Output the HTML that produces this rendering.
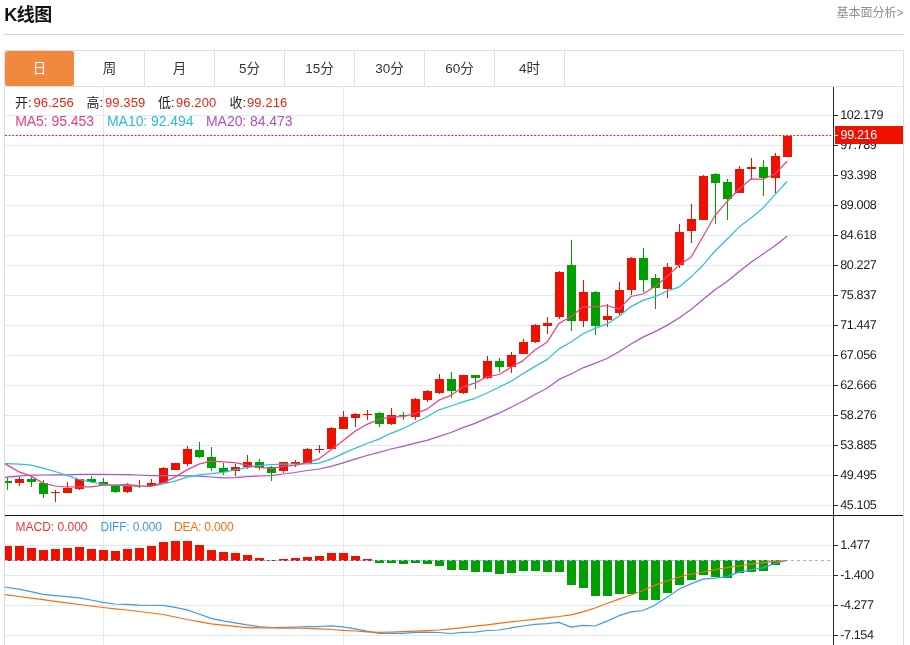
<!DOCTYPE html>
<html lang="zh-CN">
<head>
<meta charset="utf-8">
<title>K线图</title>
<style>
html,body{margin:0;padding:0;background:#fff;}
body{width:910px;height:645px;overflow:hidden;position:relative;font-family:"Liberation Sans","Noto Sans CJK SC",sans-serif;color:#222;}
.title{position:absolute;left:4.3px;top:2.8px;font-size:18px;font-weight:bold;line-height:24px;color:#111;letter-spacing:-0.5px;}
.more{position:absolute;right:6.5px;top:5.3px;font-size:12px;line-height:16px;color:#8e8e8e;}
.hr{position:absolute;left:4px;top:34px;width:900px;height:1px;background:#d2d2d2;}
.tabs{position:absolute;left:4px;top:50px;width:898px;height:35px;border:1px solid #dedede;}
.tab{position:absolute;top:0;width:69px;height:35px;border-right:1px solid #dedede;text-align:center;font-size:13.5px;line-height:36.5px;color:#333;}
.tab.on{background:#f0883e;color:#fff;border-radius:3px;border-right-color:#fff;}
.frame{position:absolute;left:4px;top:87px;width:898px;height:558px;border-left:1px solid #dcdcdc;border-right:1px solid #dcdcdc;}
svg{position:absolute;left:0;top:0;}
.lg{position:absolute;white-space:nowrap;font-size:13px;line-height:16px;}
.lg .p{position:absolute;top:0;}
.lg .n{color:#ee2211;letter-spacing:0.1px;}
</style>
</head>
<body>
<div class="title">K线图</div>
<div class="more">基本面分析&gt;</div>
<div class="hr"></div>
<div class="tabs">
<div class="tab on" style="left:0">日</div>
<div class="tab" style="left:70px">周</div>
<div class="tab" style="left:140px">月</div>
<div class="tab" style="left:210px">5分</div>
<div class="tab" style="left:280px">15分</div>
<div class="tab" style="left:350px">30分</div>
<div class="tab" style="left:420px">60分</div>
<div class="tab" style="left:490px">4时</div>
</div>
<div class="frame"></div>
<svg width="910" height="645" viewBox="0 0 910 645">
<defs><clipPath id="cl"><rect x="5" y="87" width="828" height="558"/></clipPath></defs>
<g shape-rendering="crispEdges">
<rect x="103" y="87" width="1" height="558" fill="#e0eaf1"/>
<rect x="343" y="87" width="1" height="558" fill="#e0eaf1"/>
<rect x="5" y="115" width="828" height="1" fill="#e0eaf1"/>
<rect x="5" y="145" width="828" height="1" fill="#e0eaf1"/>
<rect x="5" y="175" width="828" height="1" fill="#e0eaf1"/>
<rect x="5" y="205" width="828" height="1" fill="#e0eaf1"/>
<rect x="5" y="235" width="828" height="1" fill="#e0eaf1"/>
<rect x="5" y="265" width="828" height="1" fill="#e0eaf1"/>
<rect x="5" y="295" width="828" height="1" fill="#e0eaf1"/>
<rect x="5" y="325" width="828" height="1" fill="#e0eaf1"/>
<rect x="5" y="355" width="828" height="1" fill="#e0eaf1"/>
<rect x="5" y="385" width="828" height="1" fill="#e0eaf1"/>
<rect x="5" y="415" width="828" height="1" fill="#e0eaf1"/>
<rect x="5" y="445" width="828" height="1" fill="#e0eaf1"/>
<rect x="5" y="475" width="828" height="1" fill="#e0eaf1"/>
<rect x="5" y="505" width="828" height="1" fill="#e0eaf1"/>
<rect x="5" y="545" width="828" height="1" fill="#e0eaf1"/>
<rect x="5" y="575" width="828" height="1" fill="#e0eaf1"/>
<rect x="5" y="605" width="828" height="1" fill="#e0eaf1"/>
<rect x="5" y="635" width="828" height="1" fill="#e0eaf1"/>
</g>
<g clip-path="url(#cl)" shape-rendering="crispEdges">
<rect x="7" y="477" width="1" height="13" fill="#00a000"/>
<rect x="3" y="481" width="9" height="2" fill="#00a000"/>
<rect x="19" y="477" width="1" height="9" fill="#ee1100"/>
<rect x="15" y="479" width="9" height="4" fill="#ee1100"/>
<rect x="31" y="477" width="1" height="10" fill="#00a000"/>
<rect x="27" y="479" width="9" height="3" fill="#00a000"/>
<rect x="43" y="480" width="1" height="18" fill="#00a000"/>
<rect x="39" y="483" width="9" height="11" fill="#00a000"/>
<rect x="55" y="490" width="1" height="12" fill="#ee1100"/>
<rect x="51" y="492" width="9" height="1" fill="#ee1100"/>
<rect x="67" y="482" width="1" height="11" fill="#ee1100"/>
<rect x="63" y="488" width="9" height="5" fill="#ee1100"/>
<rect x="79" y="479" width="1" height="11" fill="#ee1100"/>
<rect x="75" y="479" width="9" height="10" fill="#ee1100"/>
<rect x="91" y="476" width="1" height="7" fill="#00a000"/>
<rect x="87" y="479" width="9" height="3" fill="#00a000"/>
<rect x="103" y="478" width="1" height="7" fill="#00a000"/>
<rect x="99" y="482" width="9" height="3" fill="#00a000"/>
<rect x="115" y="484" width="1" height="9" fill="#00a000"/>
<rect x="111" y="485" width="9" height="7" fill="#00a000"/>
<rect x="127" y="483" width="1" height="10" fill="#ee1100"/>
<rect x="123" y="485" width="9" height="7" fill="#ee1100"/>
<rect x="139" y="480" width="1" height="8" fill="#ee1100"/>
<rect x="135" y="486" width="9" height="1" fill="#ee1100"/>
<rect x="151" y="479" width="1" height="7" fill="#ee1100"/>
<rect x="147" y="483" width="9" height="3" fill="#ee1100"/>
<rect x="163" y="467" width="1" height="17" fill="#ee1100"/>
<rect x="159" y="468" width="9" height="15" fill="#ee1100"/>
<rect x="175" y="463" width="1" height="7" fill="#ee1100"/>
<rect x="171" y="463" width="9" height="7" fill="#ee1100"/>
<rect x="187" y="446" width="1" height="20" fill="#ee1100"/>
<rect x="183" y="449" width="9" height="15" fill="#ee1100"/>
<rect x="199" y="442" width="1" height="16" fill="#00a000"/>
<rect x="195" y="450" width="9" height="7" fill="#00a000"/>
<rect x="211" y="447" width="1" height="24" fill="#00a000"/>
<rect x="207" y="457" width="9" height="11" fill="#00a000"/>
<rect x="223" y="463" width="1" height="12" fill="#00a000"/>
<rect x="219" y="468" width="9" height="4" fill="#00a000"/>
<rect x="235" y="464" width="1" height="12" fill="#ee1100"/>
<rect x="231" y="467" width="9" height="4" fill="#ee1100"/>
<rect x="247" y="455" width="1" height="14" fill="#ee1100"/>
<rect x="243" y="462" width="9" height="5" fill="#ee1100"/>
<rect x="259" y="459" width="1" height="11" fill="#00a000"/>
<rect x="255" y="462" width="9" height="6" fill="#00a000"/>
<rect x="271" y="466" width="1" height="15" fill="#00a000"/>
<rect x="267" y="467" width="9" height="6" fill="#00a000"/>
<rect x="283" y="462" width="1" height="11" fill="#ee1100"/>
<rect x="279" y="462" width="9" height="9" fill="#ee1100"/>
<rect x="295" y="460" width="1" height="7" fill="#ee1100"/>
<rect x="291" y="462" width="9" height="2" fill="#ee1100"/>
<rect x="307" y="448" width="1" height="15" fill="#ee1100"/>
<rect x="303" y="449" width="9" height="14" fill="#ee1100"/>
<rect x="319" y="445" width="1" height="8" fill="#ee1100"/>
<rect x="315" y="449" width="9" height="1" fill="#ee1100"/>
<rect x="331" y="427" width="1" height="22" fill="#ee1100"/>
<rect x="327" y="428" width="9" height="21" fill="#ee1100"/>
<rect x="343" y="411" width="1" height="18" fill="#ee1100"/>
<rect x="339" y="417" width="9" height="12" fill="#ee1100"/>
<rect x="355" y="413" width="1" height="14" fill="#ee1100"/>
<rect x="351" y="414" width="9" height="4" fill="#ee1100"/>
<rect x="367" y="410" width="1" height="10" fill="#ee1100"/>
<rect x="363" y="414" width="9" height="1" fill="#ee1100"/>
<rect x="379" y="412" width="1" height="15" fill="#00a000"/>
<rect x="375" y="413" width="9" height="11" fill="#00a000"/>
<rect x="391" y="408" width="1" height="17" fill="#ee1100"/>
<rect x="387" y="415" width="9" height="9" fill="#ee1100"/>
<rect x="403" y="412" width="1" height="8" fill="#00a000"/>
<rect x="399" y="415" width="9" height="1" fill="#00a000"/>
<rect x="415" y="398" width="1" height="22" fill="#ee1100"/>
<rect x="411" y="399" width="9" height="18" fill="#ee1100"/>
<rect x="427" y="390" width="1" height="12" fill="#ee1100"/>
<rect x="423" y="391" width="9" height="9" fill="#ee1100"/>
<rect x="439" y="374" width="1" height="20" fill="#ee1100"/>
<rect x="435" y="379" width="9" height="14" fill="#ee1100"/>
<rect x="451" y="372" width="1" height="26" fill="#00a000"/>
<rect x="447" y="379" width="9" height="12" fill="#00a000"/>
<rect x="463" y="375" width="1" height="19" fill="#ee1100"/>
<rect x="459" y="375" width="9" height="18" fill="#ee1100"/>
<rect x="475" y="375" width="1" height="14" fill="#00a000"/>
<rect x="471" y="375" width="9" height="3" fill="#00a000"/>
<rect x="487" y="356" width="1" height="23" fill="#ee1100"/>
<rect x="483" y="361" width="9" height="17" fill="#ee1100"/>
<rect x="499" y="358" width="1" height="14" fill="#00a000"/>
<rect x="495" y="361" width="9" height="6" fill="#00a000"/>
<rect x="511" y="352" width="1" height="21" fill="#ee1100"/>
<rect x="507" y="355" width="9" height="12" fill="#ee1100"/>
<rect x="523" y="339" width="1" height="15" fill="#ee1100"/>
<rect x="519" y="342" width="9" height="12" fill="#ee1100"/>
<rect x="535" y="324" width="1" height="19" fill="#ee1100"/>
<rect x="531" y="325" width="9" height="17" fill="#ee1100"/>
<rect x="547" y="317" width="1" height="17" fill="#ee1100"/>
<rect x="543" y="323" width="9" height="3" fill="#ee1100"/>
<rect x="559" y="271" width="1" height="48" fill="#ee1100"/>
<rect x="555" y="272" width="9" height="45" fill="#ee1100"/>
<rect x="571" y="240" width="1" height="91" fill="#00a000"/>
<rect x="567" y="265" width="9" height="56" fill="#00a000"/>
<rect x="583" y="280" width="1" height="47" fill="#ee1100"/>
<rect x="579" y="292" width="9" height="29" fill="#ee1100"/>
<rect x="595" y="291" width="1" height="44" fill="#00a000"/>
<rect x="591" y="292" width="9" height="34" fill="#00a000"/>
<rect x="607" y="304" width="1" height="23" fill="#ee1100"/>
<rect x="603" y="316" width="9" height="4" fill="#ee1100"/>
<rect x="619" y="282" width="1" height="33" fill="#ee1100"/>
<rect x="615" y="290" width="9" height="23" fill="#ee1100"/>
<rect x="631" y="257" width="1" height="38" fill="#ee1100"/>
<rect x="627" y="258" width="9" height="32" fill="#ee1100"/>
<rect x="643" y="248" width="1" height="44" fill="#00a000"/>
<rect x="639" y="258" width="9" height="22" fill="#00a000"/>
<rect x="655" y="274" width="1" height="35" fill="#00a000"/>
<rect x="651" y="278" width="9" height="10" fill="#00a000"/>
<rect x="667" y="263" width="1" height="35" fill="#ee1100"/>
<rect x="663" y="267" width="9" height="22" fill="#ee1100"/>
<rect x="679" y="224" width="1" height="44" fill="#ee1100"/>
<rect x="675" y="232" width="9" height="33" fill="#ee1100"/>
<rect x="691" y="204" width="1" height="39" fill="#ee1100"/>
<rect x="687" y="219" width="9" height="12" fill="#ee1100"/>
<rect x="703" y="175" width="1" height="45" fill="#ee1100"/>
<rect x="699" y="176" width="9" height="44" fill="#ee1100"/>
<rect x="715" y="173" width="1" height="51" fill="#00a000"/>
<rect x="711" y="174" width="9" height="9" fill="#00a000"/>
<rect x="727" y="179" width="1" height="41" fill="#00a000"/>
<rect x="723" y="182" width="9" height="17" fill="#00a000"/>
<rect x="739" y="166" width="1" height="27" fill="#ee1100"/>
<rect x="735" y="169" width="9" height="24" fill="#ee1100"/>
<rect x="751" y="158" width="1" height="22" fill="#ee1100"/>
<rect x="747" y="167" width="9" height="2" fill="#ee1100"/>
<rect x="763" y="160" width="1" height="36" fill="#00a000"/>
<rect x="759" y="167" width="9" height="11" fill="#00a000"/>
<rect x="775" y="153" width="1" height="40" fill="#ee1100"/>
<rect x="771" y="156" width="9" height="22" fill="#ee1100"/>
<rect x="787" y="135" width="1" height="22" fill="#ee1100"/>
<rect x="783" y="136" width="9" height="21" fill="#ee1100"/>
</g>
<g clip-path="url(#cl)" fill="none" stroke-width="1.25" stroke-linejoin="round">
<path d="M-5.0 478.5 L7.0 477.2 L19.0 476.1 L31.0 475.2 L43.0 475.0 L55.0 474.8 L67.0 474.8 L79.0 474.4 L91.0 474.3 L103.0 474.3 L115.0 474.5 L127.0 474.6 L139.0 475.0 L151.0 475.6 L163.0 475.6 L175.0 475.6 L187.0 475.8 L199.0 476.1 L211.0 477.0 L223.0 477.9 L235.0 477.7 L247.0 476.6 L259.0 476.0 L271.0 475.6 L283.0 474.0 L295.0 472.5 L307.0 470.5 L319.0 469.0 L331.0 466.3 L343.0 462.9 L355.0 459.1 L367.0 455.5 L379.0 452.4 L391.0 449.0 L403.0 446.4 L415.0 443.2 L427.0 440.3 L439.0 436.4 L451.0 432.5 L463.0 427.7 L475.0 423.3 L487.0 418.2 L499.0 413.2 L511.0 407.3 L523.0 401.3 L535.0 394.5 L547.0 388.2 L559.0 379.4 L571.0 374.0 L583.0 367.8 L595.0 363.4 L607.0 358.5 L619.0 351.8 L631.0 344.0 L643.0 337.1 L655.0 331.6 L667.0 325.4 L679.0 318.0 L691.0 309.4 L703.0 299.5 L715.0 289.7 L727.0 281.6 L739.0 271.7 L751.0 262.3 L763.0 254.1 L775.0 245.7 L787.0 236.3" stroke="#b152c9"/>
<path d="M-5.0 463.0 L7.0 463.7 L19.0 464.2 L31.0 465.2 L43.0 468.2 L55.0 471.5 L67.0 475.4 L79.0 479.4 L91.0 482.0 L103.0 484.3 L115.0 485.5 L127.0 485.7 L139.0 486.4 L151.0 486.5 L163.0 483.9 L175.0 481.1 L187.0 477.2 L199.0 474.9 L211.0 473.6 L223.0 472.3 L235.0 469.8 L247.0 467.6 L259.0 465.7 L271.0 464.7 L283.0 464.1 L295.0 464.0 L307.0 463.9 L319.0 463.1 L331.0 459.1 L343.0 453.6 L355.0 448.3 L367.0 443.5 L379.0 439.1 L391.0 433.3 L403.0 428.7 L415.0 422.5 L427.0 416.7 L439.0 409.8 L451.0 406.0 L463.0 401.9 L475.0 398.3 L487.0 393.0 L499.0 387.3 L511.0 381.3 L523.0 373.8 L535.0 366.4 L547.0 359.6 L559.0 348.9 L571.0 342.0 L583.0 333.7 L595.0 328.4 L607.0 323.9 L619.0 316.3 L631.0 306.6 L643.0 300.4 L655.0 296.7 L667.0 291.1 L679.0 287.1 L691.0 276.9 L703.0 265.2 L715.0 251.0 L727.0 239.2 L739.0 227.1 L751.0 218.0 L763.0 207.9 L775.0 194.7 L787.0 181.5" stroke="#2cc0dc"/>
<path d="M-5.0 457.5 L7.0 464.9 L19.0 471.9 L31.0 476.1 L43.0 483.1 L55.0 486.0 L67.0 487.0 L79.0 486.9 L91.0 486.9 L103.0 485.1 L115.0 485.1 L127.0 484.4 L139.0 485.8 L151.0 486.1 L163.0 482.7 L175.0 477.1 L187.0 469.9 L199.0 464.1 L211.0 461.1 L223.0 461.8 L235.0 462.6 L247.0 465.2 L259.0 467.4 L271.0 468.3 L283.0 466.4 L295.0 465.4 L307.0 462.7 L319.0 458.8 L331.0 449.8 L343.0 440.8 L355.0 431.3 L367.0 424.3 L379.0 419.3 L391.0 416.8 L403.0 416.6 L415.0 413.6 L427.0 409.1 L439.0 400.2 L451.0 395.3 L463.0 387.1 L475.0 382.9 L487.0 376.9 L499.0 374.5 L511.0 367.3 L523.0 360.6 L535.0 350.0 L547.0 342.3 L559.0 323.4 L571.0 316.7 L583.0 306.8 L595.0 306.9 L607.0 305.5 L619.0 309.1 L631.0 296.5 L643.0 294.0 L655.0 286.5 L667.0 276.7 L679.0 265.1 L691.0 257.3 L703.0 236.5 L715.0 215.5 L727.0 201.7 L739.0 189.2 L751.0 178.8 L763.0 179.3 L775.0 174.0 L787.0 161.3" stroke="#e9457e"/>
</g>
<line x1="5" y1="135.5" x2="832" y2="135.5" stroke="#f02816" stroke-width="1" stroke-dasharray="2 1.6"/>
<g clip-path="url(#cl)" shape-rendering="crispEdges">
<rect x="3" y="546" width="9" height="15" fill="#ee1100"/>
<rect x="15" y="546" width="9" height="15" fill="#ee1100"/>
<rect x="27" y="548" width="9" height="13" fill="#ee1100"/>
<rect x="39" y="550" width="9" height="11" fill="#ee1100"/>
<rect x="51" y="549" width="9" height="12" fill="#ee1100"/>
<rect x="63" y="548" width="9" height="13" fill="#ee1100"/>
<rect x="75" y="547" width="9" height="14" fill="#ee1100"/>
<rect x="87" y="549" width="9" height="12" fill="#ee1100"/>
<rect x="99" y="550" width="9" height="11" fill="#ee1100"/>
<rect x="111" y="551" width="9" height="10" fill="#ee1100"/>
<rect x="123" y="549" width="9" height="12" fill="#ee1100"/>
<rect x="135" y="548" width="9" height="13" fill="#ee1100"/>
<rect x="147" y="546" width="9" height="15" fill="#ee1100"/>
<rect x="159" y="542" width="9" height="19" fill="#ee1100"/>
<rect x="171" y="541" width="9" height="20" fill="#ee1100"/>
<rect x="183" y="541" width="9" height="20" fill="#ee1100"/>
<rect x="195" y="545" width="9" height="16" fill="#ee1100"/>
<rect x="207" y="550" width="9" height="11" fill="#ee1100"/>
<rect x="219" y="552" width="9" height="9" fill="#ee1100"/>
<rect x="231" y="553" width="9" height="8" fill="#ee1100"/>
<rect x="243" y="555" width="9" height="6" fill="#ee1100"/>
<rect x="255" y="558" width="9" height="3" fill="#ee1100"/>
<rect x="267" y="560" width="9" height="1" fill="#ee1100"/>
<rect x="279" y="559" width="9" height="2" fill="#ee1100"/>
<rect x="291" y="558" width="9" height="3" fill="#ee1100"/>
<rect x="303" y="557" width="9" height="4" fill="#ee1100"/>
<rect x="315" y="556" width="9" height="5" fill="#ee1100"/>
<rect x="327" y="553" width="9" height="8" fill="#ee1100"/>
<rect x="339" y="553" width="9" height="8" fill="#ee1100"/>
<rect x="351" y="556" width="9" height="5" fill="#ee1100"/>
<rect x="363" y="559" width="9" height="2" fill="#ee1100"/>
<rect x="375" y="560" width="9" height="3" fill="#00a000"/>
<rect x="387" y="560" width="9" height="3" fill="#00a000"/>
<rect x="399" y="560" width="9" height="4" fill="#00a000"/>
<rect x="411" y="560" width="9" height="3" fill="#00a000"/>
<rect x="423" y="560" width="9" height="4" fill="#00a000"/>
<rect x="435" y="560" width="9" height="6" fill="#00a000"/>
<rect x="447" y="560" width="9" height="10" fill="#00a000"/>
<rect x="459" y="560" width="9" height="10" fill="#00a000"/>
<rect x="471" y="560" width="9" height="12" fill="#00a000"/>
<rect x="483" y="560" width="9" height="12" fill="#00a000"/>
<rect x="495" y="560" width="9" height="14" fill="#00a000"/>
<rect x="507" y="560" width="9" height="13" fill="#00a000"/>
<rect x="519" y="560" width="9" height="11" fill="#00a000"/>
<rect x="531" y="560" width="9" height="11" fill="#00a000"/>
<rect x="543" y="560" width="9" height="12" fill="#00a000"/>
<rect x="555" y="560" width="9" height="12" fill="#00a000"/>
<rect x="567" y="560" width="9" height="25" fill="#00a000"/>
<rect x="579" y="560" width="9" height="28" fill="#00a000"/>
<rect x="591" y="560" width="9" height="36" fill="#00a000"/>
<rect x="603" y="560" width="9" height="36" fill="#00a000"/>
<rect x="615" y="560" width="9" height="34" fill="#00a000"/>
<rect x="627" y="560" width="9" height="34" fill="#00a000"/>
<rect x="639" y="560" width="9" height="40" fill="#00a000"/>
<rect x="651" y="560" width="9" height="40" fill="#00a000"/>
<rect x="663" y="560" width="9" height="33" fill="#00a000"/>
<rect x="675" y="560" width="9" height="25" fill="#00a000"/>
<rect x="687" y="560" width="9" height="20" fill="#00a000"/>
<rect x="699" y="560" width="9" height="15" fill="#00a000"/>
<rect x="711" y="560" width="9" height="17" fill="#00a000"/>
<rect x="723" y="560" width="9" height="18" fill="#00a000"/>
<rect x="735" y="560" width="9" height="13" fill="#00a000"/>
<rect x="747" y="560" width="9" height="12" fill="#00a000"/>
<rect x="759" y="560" width="9" height="11" fill="#00a000"/>
<rect x="771" y="560" width="9" height="5" fill="#00a000"/>
</g>
<line x1="5" y1="560.5" x2="831" y2="560.5" stroke="#7cc6ee" stroke-width="1" stroke-dasharray="3 3" shape-rendering="crispEdges"/>
<g clip-path="url(#cl)" fill="none" stroke-width="1.25" stroke-linejoin="round">
<path d="M-5.0 585.9 L7.0 587.5 L19.0 589.2 L31.0 591.6 L43.0 594.4 L55.0 595.6 L67.0 596.6 L79.0 597.8 L91.0 600.0 L103.0 602.3 L115.0 604.0 L127.0 604.3 L139.0 605.2 L151.0 605.5 L163.0 605.3 L175.0 607.3 L187.0 609.8 L199.0 614.0 L211.0 618.3 L223.0 620.9 L235.0 622.9 L247.0 624.9 L259.0 626.6 L271.0 627.5 L283.0 627.3 L295.0 627.0 L307.0 626.6 L319.0 626.5 L331.0 625.8 L343.0 626.8 L355.0 628.8 L367.0 631.2 L379.0 633.3 L391.0 633.2 L403.0 633.4 L415.0 632.3 L427.0 632.2 L439.0 632.5 L451.0 633.5 L463.0 632.3 L475.0 632.1 L487.0 630.5 L499.0 630.0 L511.0 627.9 L523.0 626.0 L535.0 624.4 L547.0 623.6 L559.0 622.4 L571.0 627.1 L583.0 625.3 L595.0 626.0 L607.0 621.1 L619.0 615.7 L631.0 611.8 L643.0 610.5 L655.0 605.1 L667.0 597.2 L679.0 589.2 L691.0 583.9 L703.0 579.1 L715.0 578.1 L727.0 576.6 L739.0 572.2 L751.0 569.9 L763.0 567.9 L775.0 563.5 L787.0 560.5" stroke="#3f9bf0"/>
<path d="M-5.0 593.2 L7.0 594.8 L19.0 596.5 L31.0 598.1 L43.0 599.7 L55.0 601.3 L67.0 602.9 L79.0 604.5 L91.0 606.0 L103.0 607.5 L115.0 608.8 L127.0 610.0 L139.0 611.5 L151.0 613.0 L163.0 614.5 L175.0 617.0 L187.0 619.5 L199.0 621.6 L211.0 623.8 L223.0 625.2 L235.0 626.4 L247.0 627.6 L259.0 627.8 L271.0 628.0 L283.0 628.0 L295.0 628.0 L307.0 628.4 L319.0 628.8 L331.0 629.5 L343.0 630.3 L355.0 631.0 L367.0 631.8 L379.0 632.3 L391.0 632.0 L403.0 631.6 L415.0 631.1 L427.0 630.6 L439.0 630.0 L451.0 628.8 L463.0 627.6 L475.0 626.2 L487.0 624.8 L499.0 623.3 L511.0 621.8 L523.0 620.5 L535.0 619.3 L547.0 617.9 L559.0 616.5 L571.0 614.8 L583.0 611.8 L595.0 608.0 L607.0 603.5 L619.0 599.2 L631.0 595.0 L643.0 590.5 L655.0 585.2 L667.0 581.0 L679.0 577.0 L691.0 574.0 L703.0 572.0 L715.0 569.7 L727.0 567.7 L739.0 566.0 L751.0 564.2 L763.0 562.7 L775.0 561.4 L787.0 560.5" stroke="#fa6e10"/>
</g>
<g shape-rendering="crispEdges">
<rect x="833" y="87" width="1" height="558" fill="#2a2a2a"/>
<rect x="5" y="515" width="898" height="1" fill="#111"/>
<rect x="834" y="115" width="4" height="1" fill="#2a2a2a"/>
<rect x="834" y="145" width="4" height="1" fill="#2a2a2a"/>
<rect x="834" y="175" width="4" height="1" fill="#2a2a2a"/>
<rect x="834" y="205" width="4" height="1" fill="#2a2a2a"/>
<rect x="834" y="235" width="4" height="1" fill="#2a2a2a"/>
<rect x="834" y="265" width="4" height="1" fill="#2a2a2a"/>
<rect x="834" y="295" width="4" height="1" fill="#2a2a2a"/>
<rect x="834" y="325" width="4" height="1" fill="#2a2a2a"/>
<rect x="834" y="355" width="4" height="1" fill="#2a2a2a"/>
<rect x="834" y="385" width="4" height="1" fill="#2a2a2a"/>
<rect x="834" y="415" width="4" height="1" fill="#2a2a2a"/>
<rect x="834" y="445" width="4" height="1" fill="#2a2a2a"/>
<rect x="834" y="475" width="4" height="1" fill="#2a2a2a"/>
<rect x="834" y="505" width="4" height="1" fill="#2a2a2a"/>
<rect x="834" y="545" width="4" height="1" fill="#2a2a2a"/>
<rect x="834" y="575" width="4" height="1" fill="#2a2a2a"/>
<rect x="834" y="605" width="4" height="1" fill="#2a2a2a"/>
<rect x="834" y="635" width="4" height="1" fill="#2a2a2a"/>
</g>
<g font-family="'Liberation Sans', sans-serif" font-size="12.6" fill="#1c1c1c" letter-spacing="-0.38" text-rendering="geometricPrecision">
<text x="840.2" y="119.4">102.179</text>
<text x="840.2" y="149.4">97.789</text>
<text x="840.2" y="179.4">93.398</text>
<text x="840.2" y="209.4">89.008</text>
<text x="840.2" y="239.4">84.618</text>
<text x="840.2" y="269.4">80.227</text>
<text x="840.2" y="299.4">75.837</text>
<text x="840.2" y="329.4">71.447</text>
<text x="840.2" y="359.4">67.056</text>
<text x="840.2" y="389.4">62.666</text>
<text x="840.2" y="419.4">58.276</text>
<text x="840.2" y="449.4">53.885</text>
<text x="840.2" y="479.4">49.495</text>
<text x="840.2" y="509.4">45.105</text>
<text x="840.2" y="549.4">1.477</text>
<text x="840.2" y="579.4">-1.400</text>
<text x="840.2" y="609.4">-4.277</text>
<text x="840.2" y="639.4">-7.154</text>
</g>
<rect x="835" y="126" width="68" height="18" fill="#ee1100" shape-rendering="crispEdges"/>
<rect x="835" y="135" width="3" height="1" fill="#fff" shape-rendering="crispEdges"/>
<text x="840.6" y="139.4" font-family="'Liberation Sans', sans-serif" font-size="12.6" fill="#fff" letter-spacing="-0.38">99.216</text>
</svg>
<div class="lg" style="left:0;top:95px;color:#222"><span class="p" style="left:15px">开:</span><span class="p n" style="left:33.5px">96.256</span><span class="p" style="left:86.5px">高:</span><span class="p n" style="left:105px">99.359</span><span class="p" style="left:158px">低:</span><span class="p n" style="left:176px">96.200</span><span class="p" style="left:229.5px">收:</span><span class="p n" style="left:247px">99.216</span></div>
<div class="lg" style="left:0;top:112.7px;font-size:14px;letter-spacing:-0.05px"><span class="p" style="left:15.2px;color:#e8407c">MA5: 95.453</span><span class="p" style="left:107px;color:#2cb8d8">MA10: 92.494</span><span class="p" style="left:206px;color:#b04fc8">MA20: 84.473</span></div>
<div class="lg" style="left:0;top:519px;font-size:12px"><span class="p" style="left:15.5px;color:#ee3333">MACD: 0.000</span><span class="p" style="left:100.5px;color:#3c9cf0;letter-spacing:-0.2px">DIFF: 0.000</span><span class="p" style="left:174px;color:#fa6e10;letter-spacing:-0.2px">DEA: 0.000</span></div>
</body>
</html>
